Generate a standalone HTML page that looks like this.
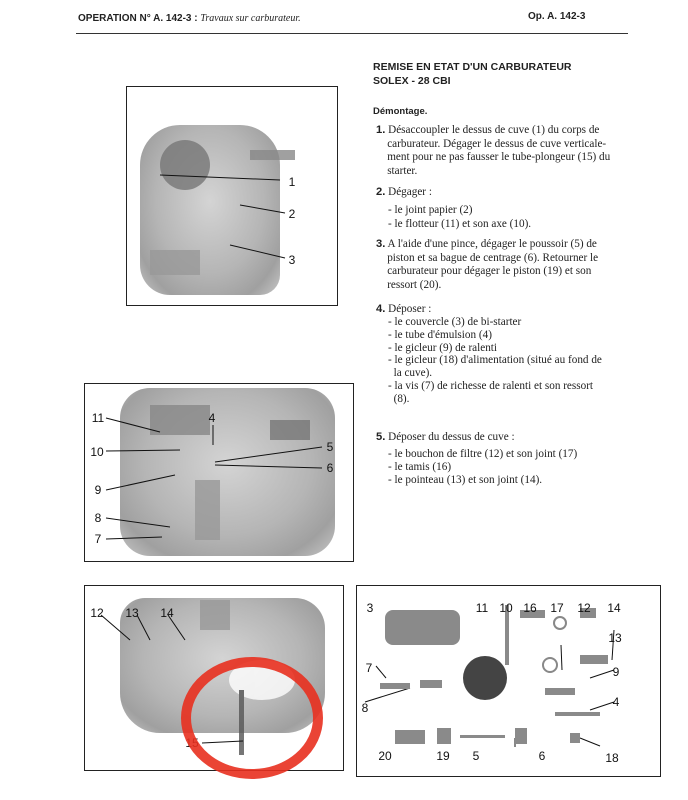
<!DOCTYPE html>
<html><head><meta charset="utf-8"><style>
body{margin:0;width:688px;height:800px;background:#fff;position:relative;overflow:hidden;font-family:"Liberation Serif",serif;color:#222}
.a{position:absolute;white-space:nowrap}
.t{font-size:11.2px;line-height:13.6px}
.b{font-family:"Liberation Sans",sans-serif;font-weight:bold}
.box{position:absolute;border:1.5px solid #222;background:#fff}
.ph{position:absolute;border-radius:30px;background:radial-gradient(ellipse at 50% 45%,#d4d4d4 0%,#b5b5b5 55%,#a0a0a0 80%,#c8c8c8 100%)}
</style></head><body>
<div class="a b" style="left:78px;top:13px;font-size:10px;">OPERATION N° A. 142-3 : <span style="font-family:'Liberation Serif',serif;font-style:italic;font-weight:normal">Travaux sur carburateur.</span></div>
<div class="a b" style="left:528px;top:11px;font-size:10px;">Op. A. 142-3</div>
<div class="a" style="left:76px;top:33px;width:552px;height:1px;background:#333"></div>

<div class="a b" style="left:373px;top:60px;font-size:10.5px;line-height:14px">REMISE EN ETAT D'UN CARBURATEUR<br>SOLEX - 28 CBI</div>
<div class="a b" style="left:373px;top:106px;font-size:9.5px">Démontage.</div>
<div class="a t" style="left:376px;top:124px"><b class="b">1.</b> Désaccoupler le dessus de cuve (1) du corps de<br>&nbsp;&nbsp;&nbsp;&nbsp;carburateur. Dégager le dessus de cuve verticale-<br>&nbsp;&nbsp;&nbsp;&nbsp;ment pour ne pas fausser le tube-plongeur (15) du<br>&nbsp;&nbsp;&nbsp;&nbsp;starter.</div>
<div class="a t" style="left:376px;top:186px"><b class="b">2.</b> Dégager :</div>
<div class="a t" style="left:388px;top:204px">- le joint papier (2)<br>- le flotteur (11) et son axe (10).</div>
<div class="a t" style="left:376px;top:238px"><b class="b">3.</b> A l'aide d'une pince, dégager le poussoir (5) de<br>&nbsp;&nbsp;&nbsp;&nbsp;piston et sa bague de centrage (6). Retourner le<br>&nbsp;&nbsp;&nbsp;&nbsp;carburateur pour dégager le piston (19) et son<br>&nbsp;&nbsp;&nbsp;&nbsp;ressort (20).</div>
<div class="a t" style="left:376px;top:303px"><b class="b">4.</b> Déposer :</div>
<div class="a t" style="left:388px;top:316px;line-height:12.8px">- le couvercle (3) de bi-starter<br>- le tube d'émulsion (4)<br>- le gicleur (9) de ralenti<br>- le gicleur (18) d'alimentation (situé au fond de<br>&nbsp;&nbsp;la cuve).<br>- la vis (7) de richesse de ralenti et son ressort<br>&nbsp;&nbsp;(8).</div>
<div class="a t" style="left:376px;top:431px"><b class="b">5.</b> Déposer du dessus de cuve :</div>
<div class="a t" style="left:388px;top:448px;line-height:13px">- le bouchon de filtre (12) et son joint (17)<br>- le tamis (16)<br>- le pointeau (13) et son joint (14).</div>

<div class="box" style="left:126px;top:86px;width:210px;height:218px"></div>
<div class="ph" style="left:140px;top:125px;width:140px;height:170px;border-radius:40px 40px 20px 30px"></div>
<div class="box" style="left:84px;top:383px;width:268px;height:177px"></div>
<div class="ph" style="left:120px;top:388px;width:215px;height:168px"></div>
<div class="box" style="left:84px;top:585px;width:258px;height:184px"></div>
<div class="ph" style="left:120px;top:598px;width:205px;height:135px;border-radius:25px 30px 40px 40px"></div>
<div class="box" style="left:356px;top:585px;width:303px;height:190px"></div>

<svg class="a" style="left:0;top:0" width="688" height="800" font-family="Liberation Sans,sans-serif" font-size="12" fill="#111">
<g fill="#777" opacity="0.8">
<circle cx="185" cy="165" r="25"/><rect x="250" y="150" width="45" height="10" fill="#888"/><rect x="150" y="250" width="50" height="25" fill="#999"/>
<rect x="150" y="405" width="60" height="30" fill="#888"/><rect x="270" y="420" width="40" height="20"/><rect x="195" y="480" width="25" height="60" fill="#999"/>
<ellipse cx="262" cy="680" rx="33" ry="20" fill="#fff"/><rect x="200" y="600" width="30" height="30" fill="#999"/><rect x="239" y="690" width="5" height="65" fill="#555"/>
</g>
<g stroke="#111" stroke-width="1" fill="none">
<path d="M160 175 L280 180"/><path d="M240 205 L285 213"/><path d="M230 245 L285 258"/>
<path d="M106 418 L160 432"/><path d="M106 451 L180 450"/><path d="M106 490 L175 475"/><path d="M106 518 L170 527"/><path d="M106 539 L162 537"/><path d="M213 425 L213 445"/><path d="M322 447 L215 462"/><path d="M322 468 L215 465"/>
<path d="M101 615 L130 640"/><path d="M137 615 L150 640"/><path d="M168 615 L185 640"/><path d="M202 743 L243 741"/>
<path d="M561 645 L562 670"/><path d="M614 630 L612 660"/><path d="M614 670 L590 678"/><path d="M614 702 L590 710"/><path d="M600 746 L580 738"/><path d="M376 666 L386 678"/><path d="M365 702 L410 688"/><path d="M515 747 L515 738"/>
</g>
<g fill="#8a8a8a">
<rect x="385" y="610" width="75" height="35" rx="8"/><circle cx="485" cy="678" r="22" fill="#444"/><rect x="505" y="605" width="4" height="60"/>
<rect x="520" y="610" width="25" height="8"/><circle cx="560" cy="623" r="6" fill="none" stroke="#888" stroke-width="2"/><rect x="580" y="608" width="16" height="10"/>
<circle cx="550" cy="665" r="7" fill="none" stroke="#888" stroke-width="2"/><rect x="580" y="655" width="28" height="9"/><rect x="545" y="688" width="30" height="7"/>
<rect x="555" y="712" width="45" height="4"/><rect x="380" y="683" width="30" height="6"/><rect x="420" y="680" width="22" height="8"/>
<rect x="395" y="730" width="30" height="14"/><rect x="437" y="728" width="14" height="16"/><rect x="460" y="735" width="45" height="3"/><rect x="515" y="728" width="12" height="16"/><rect x="570" y="733" width="10" height="10"/>
</g>
<g text-anchor="middle">
<text x="292" y="186">1</text><text x="292" y="218">2</text><text x="292" y="264">3</text>
<text x="98" y="422">11</text><text x="97" y="456">10</text><text x="98" y="494">9</text><text x="98" y="522">8</text><text x="98" y="543">7</text><text x="212" y="422">4</text><text x="330" y="451">5</text><text x="330" y="472">6</text>
<text x="97" y="617">12</text><text x="132" y="617">13</text><text x="167" y="617">14</text><text x="192" y="747">15</text>
<text x="370" y="612">3</text><text x="482" y="612">11</text><text x="506" y="612">10</text><text x="530" y="612">16</text><text x="557" y="612">17</text><text x="584" y="612">12</text><text x="614" y="612">14</text><text x="615" y="642">13</text><text x="616" y="676">9</text><text x="616" y="706">4</text><text x="369" y="672">7</text><text x="365" y="712">8</text><text x="385" y="760">20</text><text x="443" y="760">19</text><text x="476" y="760">5</text><text x="542" y="760">6</text><text x="612" y="762">18</text>
</g>
<ellipse cx="252" cy="718" rx="66" ry="56" fill="none" stroke="#e8301f" stroke-width="10" opacity="0.9"/>
</svg>
</body></html>
